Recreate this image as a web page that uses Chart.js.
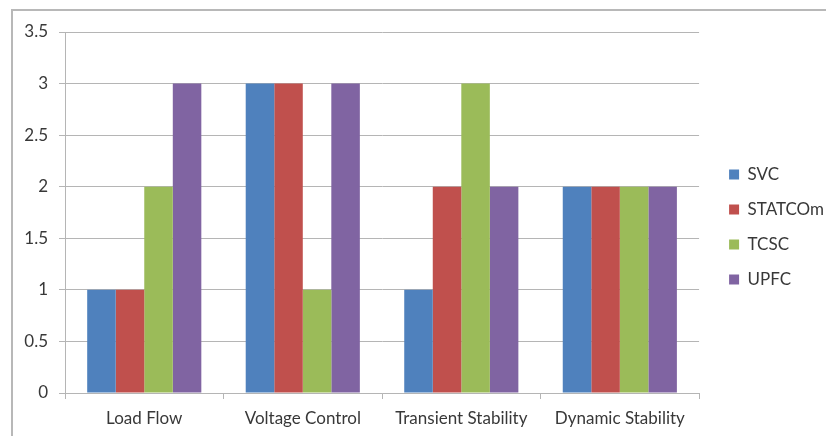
<!DOCTYPE html>
<html>
<head>
<meta charset="utf-8">
<script src="https://cdn.jsdelivr.net/npm/chart.js@4/dist/chart.umd.min.js"></script>
<style>
  html, body { margin: 0; padding: 0; background: #fff; }
  #wrap { position: relative; width: 826px; height: 436px; }
  #frame { position: absolute; left: 11px; top: 9px; right: -5px; bottom: -5px;
           border-left: 2px solid #b8b8b8; border-top: 2px solid #b8b8b8; }
  canvas { position: absolute; left: 0; top: 0; }
</style>
</head>
<body>
<div id="wrap">
  <div id="frame"></div>
  <canvas id="chart" width="826" height="436"></canvas>
</div>
<script>
    var categories = ["Load Flow", "Voltage Control", "Transient Stability", "Dynamic Stability"];
    var svc = [1, 3, 1, 2];
    var statcom = [1, 3, 2, 2];
    var tcsc = [2, 1, 3, 2];
    var upfc = [3, 3, 2, 2];
    var yTicks = [0, 0.5, 1, 1.5, 2, 2.5, 3, 3.5];

    var textColor = "#383838";
    var gridColor = "#b5b5b5";
    Chart.defaults.font.family = "Lato, 'Open Sans', sans-serif";
    Chart.defaults.font.size = 17;
    Chart.defaults.color = textColor;

    // nudge the legend right and up a little, like the original
    var legendShift = {
        id: 'legendShift',
        afterLayout: function (chart) {
            chart.legend.left += 12;
            chart.legend.right += 12;
            chart.legend.top -= 7;
            chart.legend.bottom -= 7;
        }
    };

    var ctx = document.getElementById("chart");
    var myChart = new Chart(ctx, {
        type: 'bar',
        data: {
            labels: categories,
            datasets: [{
                label: "SVC",
                data: svc,
                backgroundColor: "#4F81BD",
            }, {
                label: "STATCOm",
                data: statcom,
                backgroundColor: "#C0504D",
            }, {
                label: "TCSC",
                data: tcsc,
                backgroundColor: "#9BBB59",
            }, {
                label: "UPFC",
                data: upfc,
                backgroundColor: "#8064A2",
            }]
        },
        options: {
            responsive: false,
            animation: false,
            layout: { padding: { top: 32, left: 0, right: 4, bottom: 0 } },
            datasets: {
                bar: { categoryPercentage: 0.72, barPercentage: 1.0 }
            },
            plugins: {
                tooltip: { enabled: false },
                legend: {
                    position: 'right',
                    labels: {
                        boxWidth: 10,
                        boxHeight: 10,
                        padding: 18,
                        font: { size: 17 },
                        color: textColor,
                    }
                }
            },
            scales: {
                x: {
                    offset: true,
                    grid: {
                        offset: true,
                        drawOnChartArea: false,
                        color: gridColor,
                        tickLength: 6,
                    },
                    border: { color: gridColor },
                    ticks: { padding: 9, maxRotation: 0 },
                    afterFit: function (scale) { scale.height = 43; }
                },
                y: {
                    min: 0,
                    max: 3.5,
                    afterBuildTicks: function (scale) {
                        scale.ticks = yTicks.map(function (v) { return { value: v }; });
                    },
                    grid: { color: gridColor, tickLength: 6 },
                    border: { color: gridColor },
                    ticks: {
                        padding: 11,
                        callback: function (value) { return String(value); }
                    },
                    afterFit: function (scale) { scale.width = 65; }
                }
            }
        },
        plugins: [legendShift]
    });
</script>
</body>
</html>
